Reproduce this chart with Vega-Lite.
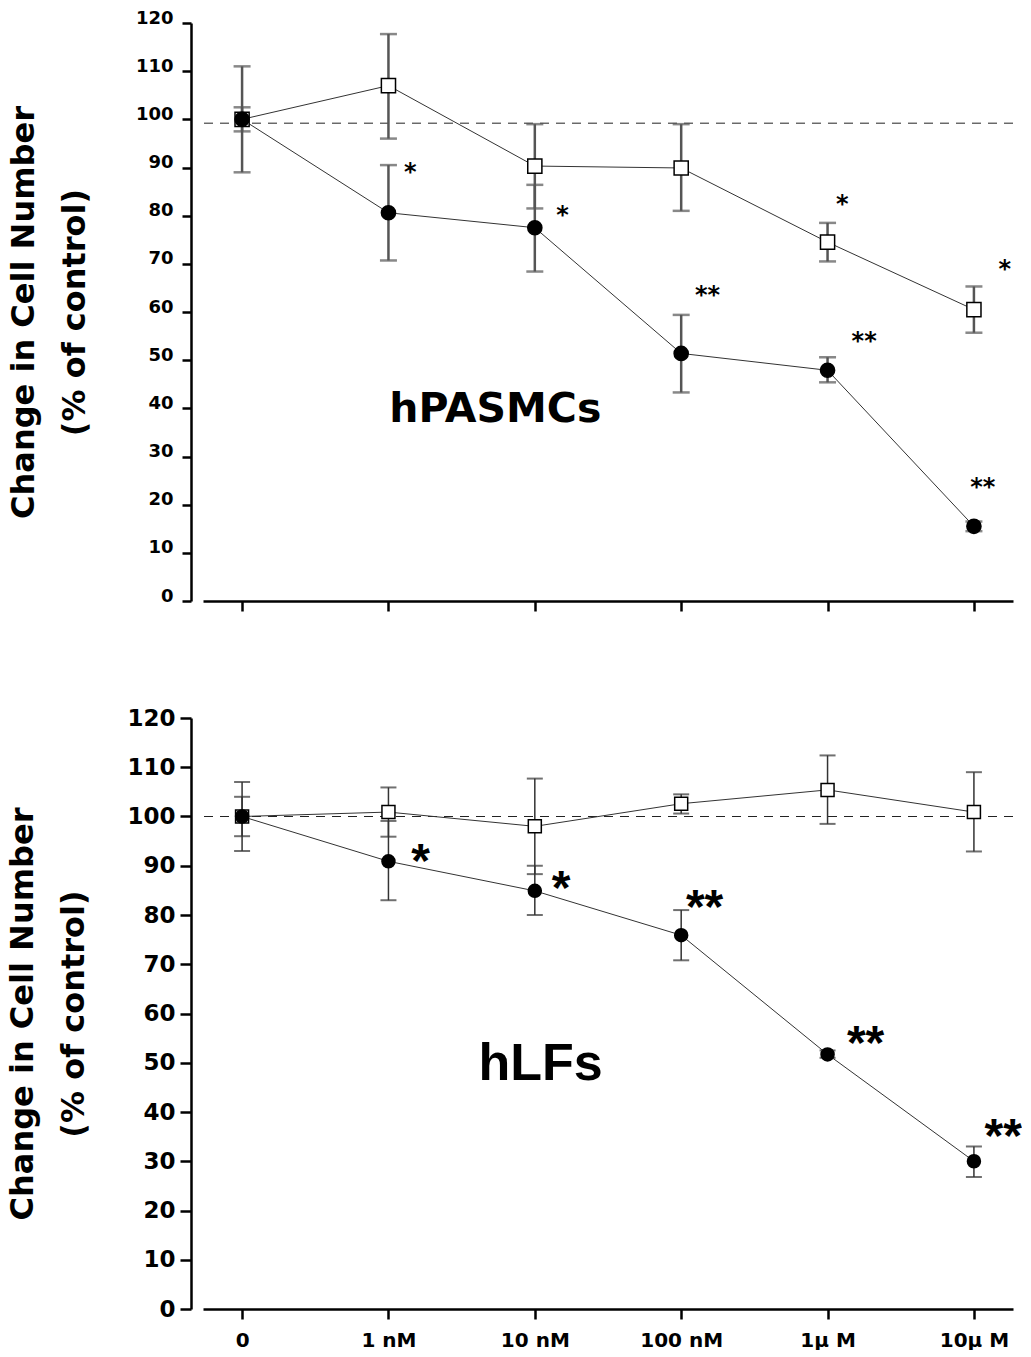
{
  "$schema": "https://vega.github.io/schema/vega-lite/v6.json",
  "background": "white",
  "padding": {"left": 6, "top": 9, "right": 0, "bottom": 0},
  "spacing": 94,
  "config": {
    "view": {"stroke": null},
    "font": "DejaVu Sans",
    "axis": {"grid": false, "domainColor": "black", "tickColor": "black", "labelColor": "black", "titleColor": "black"}
  },
  "datasets": {
    "topRef": [{"ref": 99.2}],
    "botRef": [{"ref": 100}],
    "topPts": [
      {"series": "control", "dose": 0, "mean": 100, "lo": 89, "hi": 111},
      {"series": "control", "dose": 1, "mean": 107, "lo": 96, "hi": 117.7},
      {"series": "control", "dose": 2, "mean": 90.3, "lo": 81.5, "hi": 99},
      {"series": "control", "dose": 3, "mean": 89.9, "lo": 81, "hi": 99},
      {"series": "control", "dose": 4, "mean": 74.5, "lo": 70.5, "hi": 78.5},
      {"series": "control", "dose": 5, "mean": 60.5, "lo": 55.7, "hi": 65.3},
      {"series": "treated", "dose": 0, "mean": 100, "lo": 97.5, "hi": 102.5},
      {"series": "treated", "dose": 1, "mean": 80.6, "lo": 70.7, "hi": 90.5},
      {"series": "treated", "dose": 2, "mean": 77.5, "lo": 68.4, "hi": 86.4},
      {"series": "treated", "dose": 3, "mean": 51.4, "lo": 43.3, "hi": 59.4},
      {"series": "treated", "dose": 4, "mean": 47.9, "lo": 45.4, "hi": 50.6},
      {"series": "treated", "dose": 5, "mean": 15.5, "lo": 14.5, "hi": 16.5}
    ],
    "botPts": [
      {"series": "control", "dose": 0, "mean": 100, "lo": 93, "hi": 107},
      {"series": "control", "dose": 1, "mean": 100.9, "lo": 95.9, "hi": 105.9},
      {"series": "control", "dose": 2, "mean": 98, "lo": 88.3, "hi": 107.7},
      {"series": "control", "dose": 3, "mean": 102.6, "lo": 100.6, "hi": 104.5},
      {"series": "control", "dose": 4, "mean": 105.4, "lo": 98.5, "hi": 112.4},
      {"series": "control", "dose": 5, "mean": 100.9, "lo": 92.9, "hi": 109},
      {"series": "treated", "dose": 0, "mean": 100, "lo": 96, "hi": 104},
      {"series": "treated", "dose": 1, "mean": 90.9, "lo": 83, "hi": 99.1},
      {"series": "treated", "dose": 2, "mean": 84.9, "lo": 80, "hi": 90},
      {"series": "treated", "dose": 3, "mean": 75.9, "lo": 70.8, "hi": 81},
      {"series": "treated", "dose": 4, "mean": 51.7, "lo": 51, "hi": 52.5},
      {"series": "treated", "dose": 5, "mean": 30, "lo": 26.8, "hi": 33}
    ],
    "topAnn": [
      {"x": 1.15, "y": 90.4, "t": "*"},
      {"x": 2.19, "y": 81.3, "t": "*"},
      {"x": 3.18, "y": 64.8, "t": "**"},
      {"x": 4.1, "y": 83.7, "t": "*"},
      {"x": 4.25, "y": 55.3, "t": "**"},
      {"x": 5.21, "y": 70.1, "t": "*"},
      {"x": 5.06, "y": 25, "t": "**"}
    ],
    "botAnn": [
      {"x": 1.22, "y": 93.2, "t": "*"},
      {"x": 2.18, "y": 87.7, "t": "*"},
      {"x": 3.16, "y": 83.8, "t": "**"},
      {"x": 4.26, "y": 56.2, "t": "**"},
      {"x": 5.2, "y": 37.4, "t": "**"}
    ],
    "topLab": [{"x": 1.73, "y": 39.6, "t": "hPASMCs"}],
    "botLab": [{"x": 2.04, "y": 49.8, "t": "hLFs"}]
  },
  "vconcat": [
    {
      "width": 810,
      "height": 578,
      "layer": [
        {
          "data": {"name": "topRef"},
          "mark": {"type": "rule", "strokeDash": [9, 7], "color": "#222", "strokeWidth": 1},
          "encoding": {
            "y": {
              "field": "ref", "type": "quantitative",
              "scale": {"domain": [0, 120], "nice": false, "zero": true},
              "axis": {
                "values": [0, 10, 20, 30, 40, 50, 60, 70, 80, 90, 100, 110, 120],
                "offset": 12, "tickSize": 9, "tickWidth": 2.5, "domainWidth": 2.5,
                "labelPadding": 9, "labelFont": "DejaVu Sans", "labelFontWeight": "bold", "labelFontSize": 18, "labelOffset": -5,
                "title": ["Change in Cell Number", "(% of control)"],
                "titleFont": "DejaVu Sans", "titleFontWeight": "bold", "titleFontSize": 32, "titleLineHeight": 51, "titlePadding": 44
              }
            }
          }
        },
        {
          "data": {"name": "topPts"},
          "mark": {"type": "rule", "color": "#555", "strokeWidth": 2.5},
          "encoding": {
            "x": {
              "field": "dose", "type": "quantitative",
              "scale": {"domain": [-0.267, 5.267], "nice": false, "zero": false},
              "axis": {"values": [0, 1, 2, 3, 4, 5], "labels": false, "tickSize": 10, "tickWidth": 2.5, "domainWidth": 2.5, "title": null}
            },
            "y": {"field": "lo", "type": "quantitative"},
            "y2": {"field": "hi"}
          }
        },
        {
          "data": {"name": "topPts"},
          "mark": {"type": "tick", "orient": "horizontal", "color": "#555", "size": 17, "thickness": 2.5},
          "encoding": {"x": {"field": "dose", "type": "quantitative"}, "y": {"field": "lo", "type": "quantitative"}}
        },
        {
          "data": {"name": "topPts"},
          "mark": {"type": "tick", "orient": "horizontal", "color": "#555", "size": 17, "thickness": 2.5},
          "encoding": {"x": {"field": "dose", "type": "quantitative"}, "y": {"field": "hi", "type": "quantitative"}}
        },
        {
          "data": {"name": "topPts"},
          "mark": {"type": "line", "color": "#333", "strokeWidth": 1},
          "encoding": {
            "x": {"field": "dose", "type": "quantitative"},
            "y": {"field": "mean", "type": "quantitative"},
            "detail": {"field": "series"}
          }
        },
        {
          "data": {"name": "topPts"},
          "mark": {"type": "point", "filled": true, "stroke": "black", "strokeWidth": 1.5, "size": 200, "opacity": 1},
          "encoding": {
            "x": {"field": "dose", "type": "quantitative"},
            "y": {"field": "mean", "type": "quantitative"},
            "shape": {"field": "series", "type": "nominal", "scale": {"domain": ["control", "treated"], "range": ["square", "circle"]}, "legend": null},
            "fill": {"field": "series", "type": "nominal", "scale": {"domain": ["control", "treated"], "range": ["white", "black"]}, "legend": null}
          }
        },
        {
          "data": {"name": "topAnn"},
          "mark": {"type": "text", "font": "DejaVu Sans", "fontWeight": "bold", "fontSize": 24, "align": "center", "baseline": "alphabetic", "dy": 14, "color": "black"},
          "encoding": {
            "x": {"field": "x", "type": "quantitative"},
            "y": {"field": "y", "type": "quantitative"},
            "text": {"field": "t"}
          }
        },
        {
          "data": {"name": "topLab"},
          "mark": {"type": "text", "font": "DejaVu Sans", "fontWeight": "bold", "fontSize": 41, "align": "center", "baseline": "middle", "color": "black"},
          "encoding": {
            "x": {"field": "x", "type": "quantitative"},
            "y": {"field": "y", "type": "quantitative"},
            "text": {"field": "t"}
          }
        }
      ]
    },
    {
      "width": 810,
      "height": 591,
      "layer": [
        {
          "data": {"name": "botRef"},
          "mark": {"type": "rule", "strokeDash": [9, 7], "color": "#222", "strokeWidth": 1},
          "encoding": {
            "y": {
              "field": "ref", "type": "quantitative",
              "scale": {"domain": [0, 120], "nice": false, "zero": true},
              "axis": {
                "values": [0, 10, 20, 30, 40, 50, 60, 70, 80, 90, 100, 110, 120],
                "offset": 12, "tickSize": 11, "tickWidth": 2.5, "domainWidth": 2.5,
                "labelPadding": 5, "labelFont": "DejaVu Sans", "labelFontWeight": "bold", "labelFontSize": 23,
                "title": ["Change in Cell Number", "(% of control)"],
                "titleFont": "DejaVu Sans", "titleFontWeight": "bold", "titleFontSize": 32, "titleLineHeight": 51, "titlePadding": 36
              }
            }
          }
        },
        {
          "data": {"name": "botPts"},
          "mark": {"type": "rule", "color": "#333", "strokeWidth": 1.5},
          "encoding": {
            "x": {
              "field": "dose", "type": "quantitative",
              "scale": {"domain": [-0.267, 5.267], "nice": false, "zero": false},
              "axis": {
                "values": [0, 1, 2, 3, 4, 5],
                "labelExpr": "['0','1 nM','10 nM','100 nM','1μ M','10μ M'][datum.value]",
                "tickSize": 10, "tickWidth": 2.5, "domainWidth": 2.5,
                "labelFont": "DejaVu Sans", "labelFontWeight": "bold", "labelFontSize": 20, "labelPadding": 11,
                "title": null
              }
            },
            "y": {"field": "lo", "type": "quantitative"},
            "y2": {"field": "hi"}
          }
        },
        {
          "data": {"name": "botPts"},
          "mark": {"type": "tick", "orient": "horizontal", "color": "#333", "size": 16, "thickness": 2},
          "encoding": {"x": {"field": "dose", "type": "quantitative"}, "y": {"field": "lo", "type": "quantitative"}}
        },
        {
          "data": {"name": "botPts"},
          "mark": {"type": "tick", "orient": "horizontal", "color": "#333", "size": 16, "thickness": 2},
          "encoding": {"x": {"field": "dose", "type": "quantitative"}, "y": {"field": "hi", "type": "quantitative"}}
        },
        {
          "data": {"name": "botPts"},
          "mark": {"type": "line", "color": "#333", "strokeWidth": 1},
          "encoding": {
            "x": {"field": "dose", "type": "quantitative"},
            "y": {"field": "mean", "type": "quantitative"},
            "detail": {"field": "series"}
          }
        },
        {
          "data": {"name": "botPts"},
          "mark": {"type": "point", "filled": true, "stroke": "black", "strokeWidth": 1.5, "size": 169, "opacity": 1},
          "encoding": {
            "x": {"field": "dose", "type": "quantitative"},
            "y": {"field": "mean", "type": "quantitative"},
            "shape": {"field": "series", "type": "nominal", "scale": {"domain": ["control", "treated"], "range": ["square", "circle"]}, "legend": null},
            "fill": {"field": "series", "type": "nominal", "scale": {"domain": ["control", "treated"], "range": ["white", "black"]}, "legend": null}
          }
        },
        {
          "data": {"name": "botAnn"},
          "mark": {"type": "text", "font": "Liberation Sans", "fontWeight": "bold", "fontSize": 48, "align": "center", "baseline": "alphabetic", "dy": 27, "color": "black"},
          "encoding": {
            "x": {"field": "x", "type": "quantitative"},
            "y": {"field": "y", "type": "quantitative"},
            "text": {"field": "t"}
          }
        },
        {
          "data": {"name": "botLab"},
          "mark": {"type": "text", "font": "Liberation Sans", "fontWeight": "bold", "fontSize": 52, "align": "center", "baseline": "middle", "color": "black"},
          "encoding": {
            "x": {"field": "x", "type": "quantitative"},
            "y": {"field": "y", "type": "quantitative"},
            "text": {"field": "t"}
          }
        }
      ]
    }
  ]
}
